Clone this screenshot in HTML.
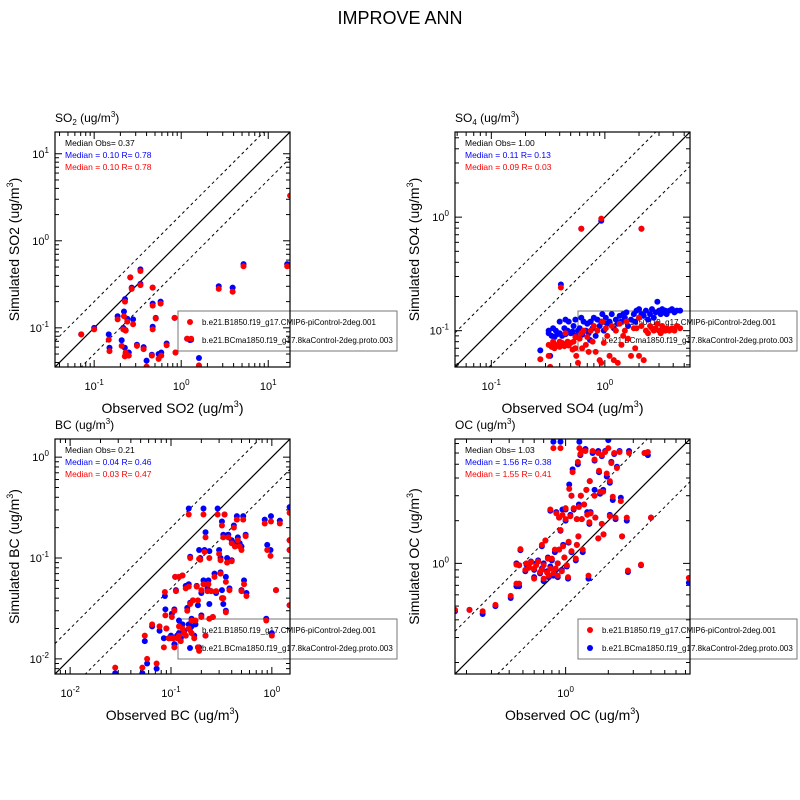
<!DOCTYPE html>
<html><head><meta charset="utf-8"><style>
html,body{margin:0;padding:0;background:#fff;}
svg{display:block;font-family:"Liberation Sans",sans-serif;}
</style></head><body>
<svg id="fig" width="800" height="800" xmlns="http://www.w3.org/2000/svg">
<rect width="800" height="800" fill="#fff"/>
<text x="400" y="24" font-size="18" text-anchor="middle">IMPROVE ANN</text>
</svg>
<script>
// ---- SO2 data ----
const so2Obs = [0.071,0.10,0.147,0.15,0.186,0.207,0.216,0.22,0.226,0.23,0.225,0.23,0.24,0.25,0.26,0.27,0.28,0.31,0.34,0.34,0.37,0.40,0.46,0.47,0.47,0.47,0.51,0.55,0.58,0.59,0.68,0.84,0.86,1.17,1.30,1.6,2.7,3.9,5.2,16.5,17.9];
const so2Blue = [0.084,0.10,0.084,0.059,0.136,0.072,0.10,0.154,0.214,0.094,0.059,0.05,0.127,0.052,0.38,0.29,0.125,0.064,0.47,0.32,0.06,0.042,0.049,0.29,0.19,0.103,0.13,0.05,0.20,0.052,0.066,0.13,0.052,0.075,0.073,0.045,0.30,0.29,0.54,0.54,3.3];
const so2Red = [0.084,0.096,0.073,0.054,0.125,0.062,0.096,0.136,0.20,0.093,0.047,0.052,0.118,0.048,0.38,0.28,0.11,0.062,0.45,0.31,0.057,0.036,0.048,0.29,0.18,0.096,0.128,0.044,0.19,0.048,0.063,0.13,0.052,0.075,0.075,0.037,0.28,0.26,0.51,0.51,3.3];
// ---- SO4 data ----
const so4Obs = [0.27,0.32,0.32,0.33,0.34,0.35,0.36,0.37,0.38,0.40, 0.40,0.42,0.44,0.45,0.47,0.48,0.50,0.52,0.53,0.55, 0.56,0.58,0.60,0.62,0.63,0.65,0.68,0.70,0.72,0.75, 0.78,0.80,0.83,0.86,0.90,0.93,0.95,0.98,1.02,1.05, 1.1,1.15,1.2,1.25,1.3,1.35,1.4,1.5,1.55,1.6, 1.7,1.8,1.85,1.9,2.0,2.1,2.2,2.3,2.4,2.5, 2.6,2.7,2.8,2.9,3.0,3.1,3.2,3.3,3.4,3.5, 3.7,3.9,4.1,4.3,4.6,0.45,0.55,1.45,2.0,0.62, 0.93,2.1,0.41];
const so4Blue = [0.067,0.095,0.1,0.06,0.09,0.105,0.088,0.1,0.093,0.12, 0.095,0.09,0.105,0.093,0.1,0.12,0.095,0.098,0.11,0.125, 0.088,0.1,0.105,0.13,0.092,0.12,0.1,0.115,0.095,0.12, 0.105,0.13,0.09,0.125,0.11,0.12,0.14,0.1,0.13,0.115, 0.12,0.14,0.105,0.125,0.115,0.135,0.12,0.13,0.145,0.11, 0.125,0.14,0.12,0.15,0.13,0.14,0.135,0.15,0.125,0.14, 0.155,0.13,0.145,0.18,0.15,0.14,0.155,0.145,0.15,0.14, 0.15,0.155,0.145,0.15,0.15,0.125,0.09,0.14,0.155,0.79, 0.93,0.79,0.255];
const so4Red = [0.056,0.06,0.075,0.048,0.072,0.08,0.07,0.073,0.075,0.08, 0.072,0.078,0.073,0.076,0.08,0.074,0.078,0.068,0.08,0.088, 0.06,0.052,0.085,0.095,0.07,0.1,0.075,0.088,0.065,0.1, 0.08,0.11,0.065,0.1,0.055,0.052,0.12,0.078,0.105,0.09, 0.06,0.11,0.055,0.1,0.052,0.115,0.075,0.1,0.12,0.085, 0.06,0.105,0.07,0.105,0.06,0.11,0.055,0.1,0.095,0.11, 0.105,0.1,0.105,0.115,0.1,0.095,0.11,0.1,0.1,0.105, 0.1,0.105,0.1,0.11,0.105,0.095,0.07,0.09,0.13,0.79, 0.97,0.79,0.24];
// ---- BC data ----
const bcObs = [0.028,0.052,0.055,0.058,0.072,0.065,0.077,0.085,0.087,0.088, 0.09,0.095,0.1,0.102,0.105,0.108,0.108,0.11,0.112,0.115, 0.12,0.12,0.125,0.13,0.13,0.14,0.14,0.145,0.15,0.15, 0.155,0.155,0.16,0.16,0.165,0.17,0.175,0.18,0.185,0.185, 0.19,0.19,0.195,0.2,0.2,0.21,0.21,0.215,0.22,0.22, 0.23,0.235,0.24,0.24,0.25,0.26,0.27,0.28,0.29,0.3, 0.31,0.31,0.32,0.32,0.33,0.33,0.34,0.35,0.35,0.36, 0.37,0.38,0.4,0.4,0.42,0.43,0.45,0.46,0.48,0.5, 0.5,0.52,0.53,0.55,0.56,0.85,0.88,0.9,0.97,0.98, 1.0,1.1,1.2,1.5,1.5,1.5,1.5,0.12,0.135,0.15];
const bcBlue = [0.0072,0.0072,0.015,0.009,0.008,0.021,0.019,0.016,0.042,0.031, 0.02,0.016,0.017,0.028,0.016,0.031,0.014,0.065,0.048,0.017, 0.065,0.024,0.016,0.022,0.067,0.053,0.017,0.032,0.055,0.31, 0.103,0.036,0.025,0.021,0.038,0.017,0.022,0.053,0.013,0.034, 0.013,0.12,0.1,0.045,0.027,0.31,0.06,0.12,0.18,0.017, 0.05,0.06,0.117,0.035,0.047,0.026,0.07,0.045,0.31,0.12, 0.072,0.1,0.23,0.048,0.17,0.035,0.27,0.065,0.03,0.1, 0.17,0.05,0.15,0.095,0.21,0.14,0.26,0.16,0.14,0.13, 0.048,0.26,0.06,0.17,0.045,0.24,0.025,0.135,0.12,0.26, 0.018,0.048,0.235,0.32,0.12,0.15,0.034,0.018,0.019,0.022];
const bcRed = [0.0082,0.0082,0.017,0.01,0.009,0.022,0.021,0.013,0.046,0.027, 0.02,0.016,0.016,0.026,0.016,0.03,0.013,0.065,0.047,0.016, 0.065,0.021,0.015,0.02,0.067,0.05,0.017,0.03,0.052,0.27, 0.1,0.035,0.024,0.018,0.038,0.016,0.024,0.052,0.013,0.038, 0.012,0.098,0.096,0.048,0.026,0.27,0.055,0.115,0.16,0.017, 0.047,0.055,0.1,0.025,0.047,0.026,0.065,0.047,0.27,0.11, 0.07,0.095,0.21,0.04,0.16,0.04,0.27,0.058,0.029,0.09, 0.16,0.048,0.14,0.093,0.2,0.13,0.24,0.15,0.13,0.12, 0.047,0.24,0.055,0.165,0.042,0.22,0.024,0.12,0.105,0.23, 0.017,0.048,0.22,0.28,0.12,0.15,0.034,0.017,0.018,0.02];
// ---- OC data ----
const ocObs = [0.166,0.21,0.26,0.32,0.41,0.45,0.47,0.45,0.47,0.48, 0.52,0.53,0.55,0.57,0.6,0.6,0.62,0.64,0.66,0.68, 0.68,0.7,0.7,0.72,0.74,0.75,0.76,0.78,0.78,0.8, 0.82,0.82,0.84,0.85,0.86,0.88,0.88,0.9,0.9,0.92, 0.92,0.94,0.95,0.96,0.98,1.0,1.0,1.02,1.04,1.05, 1.06,1.08,1.1,1.1,1.12,1.14,1.18,1.2,1.2,1.22, 1.23,1.24,1.25,1.27,1.28,1.3,1.3,1.32,1.35,1.38, 1.4,1.42,1.45,1.47,1.48,1.5,1.55,1.6,1.6,1.62, 1.7,1.7,1.72,1.75,1.8,1.8,1.84,1.85,1.9,1.95, 2.0,2.05,2.05,2.1,2.15,2.2,2.25,2.3,2.4,2.45, 2.5,2.7,2.75,2.8,3.4,3.6,3.8,4.0,7.4];
const ocBlue = [0.46,0.47,0.44,0.5,0.57,0.69,0.69,1.0,0.97,1.24, 0.88,0.98,0.95,1.03,0.9,0.8,1.0,1.05,0.85,0.92, 1.32,0.75,1.0,1.45,0.88,1.1,0.8,2.35,0.95,1.05, 0.82,7.2,1.2,0.9,2.3,1.0,0.8,1.25,2.1,1.7, 7.2,0.9,2.4,1.35,1.1,2.0,2.4,0.95,0.78,1.4, 3.6,2.2,3.0,1.2,4.6,2.4,1.05,2.05,1.35,5.0, 1.55,2.6,7.2,5.8,3.0,6.2,2.05,1.2,2.6,6.4, 3.3,2.3,0.78,1.9,3.8,2.3,6.0,3.3,5.3,2.1, 6.2,1.5,4.4,3.1,1.9,5.7,3.3,1.6,6.2,4.1, 7.4,3.7,2.2,5.2,2.8,5.9,2.05,4.8,6.2,2.9, 1.55,2.0,0.87,6.2,0.97,6.0,5.8,2.1,0.73];
const ocRed = [0.47,0.47,0.46,0.51,0.59,0.72,0.72,0.98,0.97,1.26, 0.9,1.0,0.93,1.02,0.92,0.78,0.97,1.03,0.87,0.9, 1.35,0.78,0.97,1.45,0.86,1.08,0.82,2.4,0.92,1.08, 0.85,6.5,1.25,0.92,2.25,1.0,0.82,1.25,2.1,1.72, 6.5,0.88,2.2,1.32,1.1,2.05,2.45,0.97,0.8,1.42, 3.35,2.15,3.0,1.22,4.4,2.45,1.08,2.05,1.35,5.2, 1.55,2.5,6.5,5.9,3.0,6.2,2.05,1.25,2.6,6.2, 3.3,2.2,0.82,1.95,3.8,2.25,6.2,3.0,5.4,2.1, 6.0,1.5,4.5,3.2,1.9,5.8,3.2,1.6,6.1,4.3, 6.5,3.8,2.15,5.1,2.95,6.0,2.1,4.7,6.1,2.75, 1.55,2.1,0.89,6.0,0.98,6.0,6.1,2.1,0.79];

const NS = "http://www.w3.org/2000/svg";
const svg = document.getElementById('fig');
function mk(tag, attrs, parent) {
  const e = document.createElementNS(NS, tag);
  for (const k in attrs) e.setAttribute(k, attrs[k]);
  (parent || svg).appendChild(e);
  return e;
}
const LEG1 = "b.e21.B1850.f19_g17.CMIP6-piControl-2deg.001";
const LEG2 = "b.e21.BCma1850.f19_g17.8kaControl-2deg.proto.003";

function panel(cfg) {
  const {id, x0, y0, lo, hi, obs, blue, red} = cfg;
  const W = 235, H = 235;
  const g = mk('g', {});
  
  
  const sx = v => x0 + (Math.log10(v) - lo) / (hi - lo) * W;
  const sy = v => y0 + H - (Math.log10(v) - lo) / (hi - lo) * H;
  const clipId = 'clip-' + id;
  const cp = mk('clipPath', {id: clipId}, g);
  mk('rect', {x: x0, y: y0, width: W, height: H}, cp);

  const t = mk('text', {x: x0, y: y0 - 10, 'font-size': 12}, g);
  
  
  t.innerHTML = cfg.title;

  const tg = mk('g', {stroke: '#000', 'stroke-width': 1}, g);
  const labels = mk('g', {'font-size': 11}, g);
  for (let d = Math.floor(lo); d <= Math.ceil(hi); d++) {
    for (let m = 1; m <= 9; m++) {
      const lv = d + Math.log10(m);
      if (lv < lo - 1e-6 || lv > hi + 1e-6) continue;
      const len = m === 1 ? 7 : 4;
      const px = x0 + (lv - lo) / (hi - lo) * W;
      const py = y0 + H - (lv - lo) / (hi - lo) * H;
      mk('line', {x1: px, y1: y0 + H, x2: px, y2: y0 + H - len}, tg);
      mk('line', {x1: px, y1: y0, x2: px, y2: y0 + len}, tg);
      mk('line', {x1: x0, y1: py, x2: x0 + len, y2: py}, tg);
      mk('line', {x1: x0 + W, y1: py, x2: x0 + W - len, y2: py}, tg);
      if (m === 1) {
        const xl = mk('text', {x: px, y: y0 + H + 23, 'text-anchor': 'middle'}, labels);
        
        
        xl.innerHTML = '10<tspan font-size="8" dy="-5">' + d + '</tspan>';
        const yl = mk('text', {x: x0 - 6, y: py + 4, 'text-anchor': 'end'}, labels);
        
        
        yl.innerHTML = '10<tspan font-size="8" dy="-5">' + d + '</tspan>';
      }
    }
  }

  const xt = mk('text', {x: x0 + W / 2, y: y0 + H + 46, 'font-size': 14, 'text-anchor': 'middle'}, g);
  
  
  xt.innerHTML = 'Observed ' + cfg.name + ' (ug/m<tspan font-size="9" dy="-6">3</tspan><tspan dy="6">)</tspan>';
  const yt = mk('text', {x: 0, y: 0, 'font-size': 14, 'text-anchor': 'middle', transform: 'translate(' + (x0 - 36) + ',' + (y0 + H / 2) + ') rotate(-90)'}, g);
  
  
  yt.innerHTML = 'Simulated ' + cfg.name + ' (ug/m<tspan font-size="9" dy="-6">3</tspan><tspan dy="6">)</tspan>';

  const lg = mk('g', {'clip-path': 'url(#' + clipId + ')', stroke: '#000', fill: 'none'}, g);
  const v0 = Math.pow(10, lo), v1 = Math.pow(10, hi);
  const l1 = mk('line', {x1: sx(v0), y1: sy(v0), x2: sx(v1), y2: sy(v1), 'stroke-width': 1.2}, lg);
  
  
  [2, 0.5].forEach(f => {
    const l = mk('line', {x1: sx(v0), y1: sy(v0 * f), x2: sx(v1), y2: sy(v1 * f), 'stroke-dasharray': '3,3'}, lg);
    
    
  });

  const lx = cfg.legX, ly = cfg.legY;
  const lgd = mk('g', {}, g);
  
  
  mk('rect', {x: lx, y: ly, width: 219, height: 40, fill: 'none', stroke: '#777', 'stroke-width': 1}, lgd);
  mk('circle', {cx: lx + 12, cy: ly + 11, r: 3, fill: '#ff0000'}, lgd);
  mk('circle', {cx: lx + 12, cy: ly + 29, r: 3, fill: '#0000ff'}, lgd);
  const e1 = mk('text', {x: lx + 24, y: ly + 14, 'font-size': 8}, lgd);
  
  
  e1.textContent = LEG1;
  const e2 = mk('text', {x: lx + 24, y: ly + 32, 'font-size': 8}, lgd);
  
  
  e2.textContent = LEG2;

  const pg = mk('g', {'clip-path': 'url(#' + clipId + ')'}, g);
  const n = Math.min(obs.length, blue.length, red.length);
  for (let i = 0; i < n; i++) {
    const c = mk('circle', {cx: sx(obs[i]), cy: sy(blue[i]), r: 3, fill: '#0000ff'}, pg);
    
    
  }
  for (let i = 0; i < n; i++) {
    const c = mk('circle', {cx: sx(obs[i]), cy: sy(red[i]), r: 3, fill: '#ff0000'}, pg);
    
    
  }

  const bx = mk('rect', {x: x0, y: y0, width: W, height: H, fill: 'none', stroke: '#000', 'stroke-width': 1.2}, g);
  
  

  const ms = [['#000', 'Median Obs= ' + cfg.m[0]], ['#0000ff', 'Median = ' + cfg.m[1]], ['#ff0000', 'Median = ' + cfg.m[2]]];
  ms.forEach((m, k) => {
    const tx = mk('text', {x: x0 + 10, y: y0 + 14 + k * 12, 'font-size': 8.5, fill: m[0]}, g);
    
    
    tx.textContent = m[1];
  });
}

panel({id: 'so2', name: 'SO2', title: 'SO<tspan font-size="8" dy="3">2</tspan><tspan dy="-3"> (ug/m</tspan><tspan font-size="8" dy="-5">3</tspan><tspan dy="5">)</tspan>',
  x0: 55, y0: 132, lo: -1.45, hi: 1.25, obs: so2Obs, blue: so2Blue, red: so2Red,
  legX: 178, legY: 311, m: ['0.37', '0.10 R= 0.78', '0.10 R= 0.78']});
panel({id: 'so4', name: 'SO4', title: 'SO<tspan font-size="8" dy="3">4</tspan><tspan dy="-3"> (ug/m</tspan><tspan font-size="8" dy="-5">3</tspan><tspan dy="5">)</tspan>',
  x0: 455, y0: 132, lo: -1.32, hi: 0.75, obs: so4Obs, blue: so4Blue, red: so4Red,
  legX: 578, legY: 311, m: ['1.00', '0.11 R= 0.13', '0.09 R= 0.03']});
panel({id: 'bc', name: 'BC', title: 'BC (ug/m<tspan font-size="8" dy="-5">3</tspan><tspan dy="5">)</tspan>',
  x0: 55, y0: 439, lo: -2.15, hi: 0.18, obs: bcObs, blue: bcBlue, red: bcRed,
  legX: 178, legY: 619, m: ['0.21', '0.04 R= 0.46', '0.03 R= 0.47']});
panel({id: 'oc', name: 'OC', title: 'OC (ug/m<tspan font-size="8" dy="-5">3</tspan><tspan dy="5">)</tspan>',
  x0: 455, y0: 439, lo: -0.78, hi: 0.877, obs: ocObs, blue: ocBlue, red: ocRed,
  legX: 578, legY: 619, m: ['1.03', '1.56 R= 0.38', '1.55 R= 0.41']});
</script>
</body></html>
